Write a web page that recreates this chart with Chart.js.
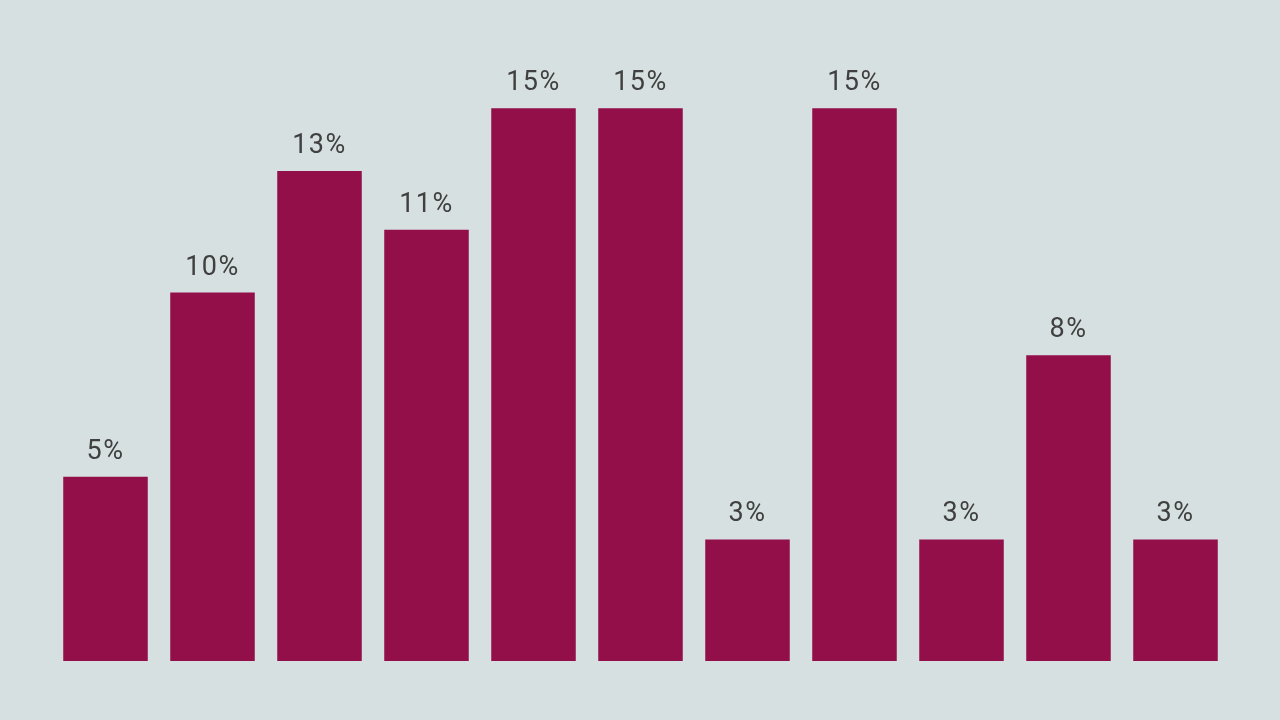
<!DOCTYPE html>
<html>
<head>
<meta charset="utf-8">
<script src="https://cdn.jsdelivr.net/npm/chart.js@4.4.1/dist/chart.umd.min.js"></script>
<style>
  html, body { margin: 0; padding: 0; background: #d7e0e1; }
  #wrap { width: 1280px; height: 720px; position: relative; }
</style>
</head>
<body>
<div id="wrap"><canvas id="myChart"></canvas></div>
<script>
// bar heights, labels as printed above each bar
const categories = ['A', 'B', 'C', 'D', 'E', 'F', 'G', 'H', 'I', 'J', 'K'];
const shares = [5, 10, 13.3, 11.7, 15, 15, 3.3, 15, 3.3, 8.3, 3.3];
const shareLabels = ['5%', '10%', '13%', '11%', '15%', '15%', '3%', '15%', '3%', '8%', '3%'];

// draws the label text above each bar
const barLabels = {
    id: 'barLabels',
    afterDatasetsDraw(chart) {
        const ctx = chart.ctx;
        const meta = chart.getDatasetMeta(0);
        ctx.save();
        ctx.font = '27px Roboto';
        ctx.fillStyle = '#404040';
        ctx.textAlign = 'center';
        ctx.textBaseline = 'alphabetic';
        if ('letterSpacing' in ctx) ctx.letterSpacing = '1.5px';
        meta.data.forEach(function (bar, i) {
            ctx.fillText(shareLabels[i], bar.x, bar.y - 18);
        });
        ctx.restore();
    }
};

const data = {
    labels: categories,
    datasets: [{
        data: shares,
        backgroundColor: '#930f4a',
        borderWidth: 0,
        categoryPercentage: 1,
        barPercentage: 0.79
    }]
};

const config = {
    type: 'bar',
    data: data,
    plugins: [barLabels],
    options: {
        responsive: true,
        maintainAspectRatio: false,
        animation: false,
        layout: {
            padding: { left: 52, right: 51, top: 53, bottom: 59 }
        },
        plugins: {
            legend: { display: false },
            tooltip: { enabled: false }
        },
        scales: {
            x: { display: false },
            y: { display: false, min: 0, max: 16.5 }
        }
    }
};

const myChart = new Chart(document.getElementById('myChart'), config);
</script>
</body>
</html>
